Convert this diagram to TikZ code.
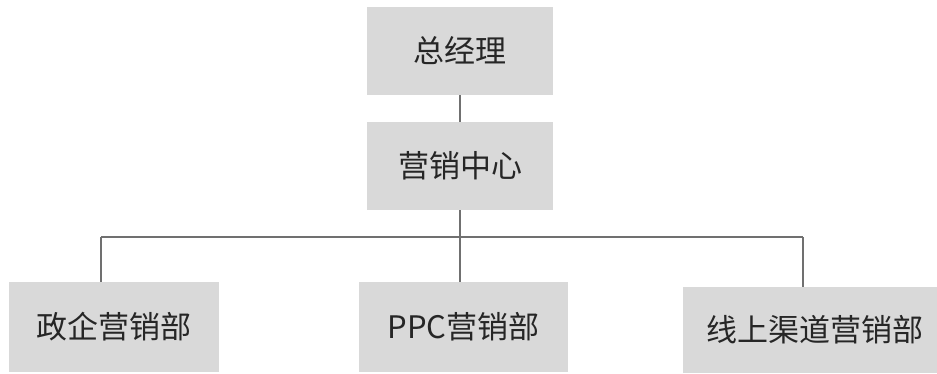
\documentclass[tikz,border=0pt]{standalone}
\usepackage{fontspec}
\setmainfont{Noto Sans CJK SC}
\definecolor{boxgray}{HTML}{D9D9D9}
\definecolor{linegray}{HTML}{707070}
\tikzset{
  orgbox/.style={fill=boxgray, draw=none, inner sep=0pt, font=\fontsize{31}{33}\selectfont, text=black!85},
  link/.style={draw=linegray, line width=1.3pt}
}
\begin{document}
\begin{tikzpicture}[x=1pt,y=-1pt]
\useasboundingbox (0,0) rectangle (937,373);
\clip (0,0) rectangle (937,373);
\node[orgbox, minimum width=186, minimum height=88] (top) at (460,51) {总经理};
\node[orgbox, minimum width=186, minimum height=88] (mid) at (460,166) {营销中心};
\node[orgbox, minimum width=210, minimum height=90] (left) at (114,327) {政企营销部};
\node[orgbox, minimum width=209, minimum height=90] (ppc) at (463.5,327) {PPC营销部};
\node[orgbox, minimum width=264, minimum height=86] (right) at (815,330) {线上渠道营销部};
\coordinate (jl) at (101,237);
\coordinate (jr) at (803,237);
\draw[link] (top.south) -- (top.south |- mid.north);
\draw[link] (mid.south) -- (mid.south |- jl);
\draw[link] (jl) -- (jr);
\draw[link] (jl) -- (jl |- left.north);
\draw[link] (mid.south |- jl) -- (mid.south |- ppc.north);
\draw[link] (jr) -- (jr |- right.north);
\end{tikzpicture}
\end{document}
